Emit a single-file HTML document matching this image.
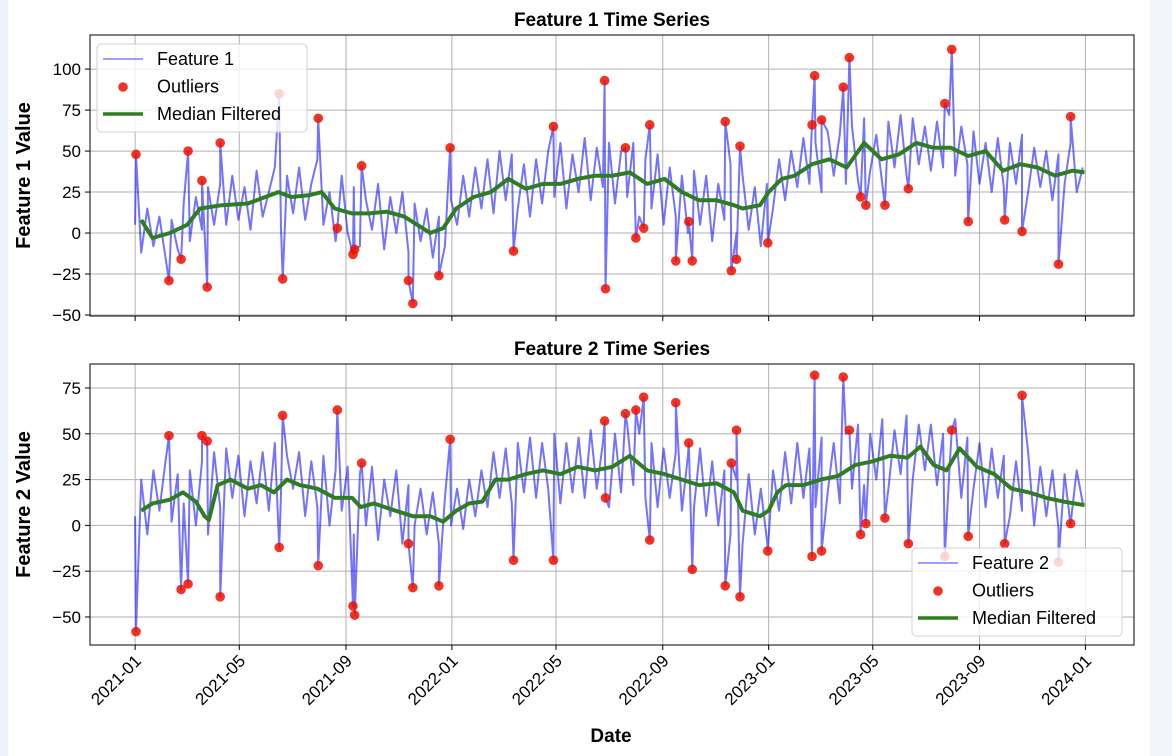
<!DOCTYPE html>
<html><head><meta charset="utf-8"><style>
html,body{margin:0;padding:0;background:#fff;}
svg{display:block;font-family:"Liberation Sans","DejaVu Sans",sans-serif;}
</style></head><body>
<svg id="chart" width="1172" height="756" viewBox="0 0 1172 756" xmlns="http://www.w3.org/2000/svg">
<rect x="0" y="0" width="1172" height="756" fill="#ffffff"/>
<rect x="0" y="0" width="8" height="756" fill="#eef3f8"/>
<rect x="1150" y="0" width="22" height="756" fill="#f2f6fa"/>
<g id="p1"></g>
<g id="p2"></g>
<text x="611" y="742" font-size="19" font-weight="bold" text-anchor="middle" fill="#000">Date</text>
</svg>
<script>
// ---- data ----
const tickLabels = ["2021-01","2021-05","2021-09","2022-01","2022-05","2022-09","2023-01","2023-05","2023-09","2024-01"];
const tickDays = [0,120,243,365,485,608,730,850,973,1095];
const outlierDays = [1,39,53,61,77,83,98,166,170,211,233,251,253,261,315,320,350,363,436,482,541,542,565,577,586,593,623,638,642,680,687,693,697,729,780,783,791,816,823,836,842,864,891,933,941,960,1002,1022,1064,1078];
const outliers1 = [48,-29,-16,50,32,-33,55,85,-28,70,3,-13,-10,41,-29,-43,-26,52,-11,65,93,-34,52,-3,3,66,-17,7,-17,68,-23,-16,53,-6,66,96,69,89,107,22,17,17,27,79,112,7,8,1,-19,71];
const outliers2 = [-58,49,-35,-32,49,46,-39,-12,60,-22,63,-44,-49,34,-10,-34,-33,47,-19,-19,57,15,61,63,70,-8,67,45,-24,-33,34,52,-39,-14,-17,82,-14,81,52,-5,1,4,-10,-17,52,-6,-10,71,-20,1];
const weekly1 = [5,-12,15,-8,10,-15,8,-10,18,-5,22,2,28,5,
30,5,35,8,28,2,38,10,25,40,5,35,12,
40,8,30,45,5,25,-5,35,0,
28,-8,20,2,30,-10,22,0,25,-12,18,-5,
15,-15,10,-8,20,
5,35,10,40,15,45,12,50,20,48,15,42,
10,45,18,50,22,55,15,48,25,58,20,52,28,55,
18,50,22,55,10,45,15,48,5,40,10,35,
0,38,5,35,-5,30,8,42,0,35,2,28,-8,30,
15,45,20,50,28,58,30,55,25,62,35,60,30,
65,32,70,38,60,30,68,40,72,35,70,42,65,
38,68,40,72,35,65,42,62,30,55,25,58,28,
55,30,60,25,52,28,50,20,48,30,55,25,40];
const weekly2 = [5,25,-5,30,8,35,2,28,12,30,0,35,-5,40,
10,42,15,38,5,35,12,40,8,45,15,38,20,
40,5,35,10,38,0,30,8,32,
-5,28,0,32,-8,25,5,30,-10,22,0,20,
-5,18,-10,15,0,
20,-2,25,5,30,10,40,15,42,12,45,18,
48,15,45,20,50,12,45,18,48,15,52,20,45,10,
50,18,55,22,50,15,45,10,42,15,40,8,
38,10,42,5,35,0,30,-5,25,-10,28,-5,20,-8,
30,8,40,12,45,15,42,10,48,18,45,12,50,
20,55,22,50,25,58,20,52,28,60,25,55,30,
55,22,50,28,58,15,48,20,45,10,42,15,38,
5,35,8,40,0,32,5,30,-2,28,0,30,12];
const medDays1 = [7,20,40,60,75,100,130,150,165,180,200,215,230,250,270,290,310,325,340,355,370,390,410,430,450,470,490,510,530,550,570,590,610,630,650,670,690,700,720,730,745,760,780,800,820,840,860,880,900,920,940,960,980,1000,1020,1040,1060,1080,1094];
const medVals1 = [8,-3,0,5,15,17,18,22,25,22,23,25,15,12,12,13,10,5,0,3,15,22,25,33,27,30,30,33,35,35,37,30,33,25,20,20,17,15,17,25,33,35,42,45,40,55,45,48,55,52,52,47,50,38,42,40,35,38,37];
const medDays2 = [7,20,40,55,70,80,85,95,110,130,145,160,175,190,210,230,250,260,275,300,320,340,355,370,385,400,415,430,450,470,490,510,530,550,570,590,610,630,650,670,690,700,720,730,740,750,770,790,810,830,850,870,890,905,920,935,950,970,990,1010,1030,1050,1070,1094];
const medVals2 = [8,12,14,18,13,5,3,22,25,20,22,18,25,22,20,15,15,10,12,8,5,5,2,8,12,13,25,25,28,30,28,32,30,32,38,30,28,25,22,23,18,8,5,8,18,22,22,25,27,33,35,38,37,43,33,30,42,32,28,20,18,15,13,11];

// ---- axes ----
const X0=90, X1=1134, D0=-52, D1=1151;
const xs = d => X0 + (d - D0) / (D1 - D0) * (X1 - X0);
const NS="http://www.w3.org/2000/svg";
function mk(tag, parent, attrs){const e=document.createElementNS(NS,tag);for(const k in attrs)e.setAttribute(k,attrs[k]);parent.appendChild(e);return e;}

function panel(g, cfg){
  const ys = v => cfg.yTop + (cfg.vMax - v) / (cfg.vMax - cfg.vMin) * (cfg.yBot - cfg.yTop);
  tickDays.forEach(d=>{
    const l=mk('line',g,{x1:xs(d),x2:xs(d),y1:cfg.yTop,y2:cfg.yBot,stroke:'#b0b0b0','stroke-width':1});
    
    
    const t=mk('line',g,{x1:xs(d),x2:xs(d),y1:cfg.yBot,y2:cfg.yBot+5,stroke:'#000','stroke-width':1});
    
    
  });
  cfg.yTicks.forEach(v=>{
    const y=ys(v);
    const l=mk('line',g,{x1:X0,x2:X1,y1:y,y2:y,stroke:'#b0b0b0','stroke-width':1});
    
    
    const t=mk('line',g,{x1:X0-5,x2:X0,y1:y,y2:y,stroke:'#000','stroke-width':1});
    
    
    const tx=mk('text',g,{x:X0-9,y:y+6,'font-size':17,'text-anchor':'end',fill:'#000'});
    tx.textContent = v<0 ? '\u2212'+(-v) : String(v);
    
    
  });
  const pts=[];
  cfg.weekly.forEach((v,i)=>pts.push([i*7,v]));
  outlierDays.forEach((d,i)=>pts.push([d,cfg.outliers[i]]));
  pts.sort((a,b)=>a[0]-b[0]);
  const raw=mk('polyline',g,{points:pts.map(p=>xs(p[0]).toFixed(1)+','+ys(p[1]).toFixed(1)).join(' '),fill:'none',stroke:'#0000ff','stroke-opacity':0.55,'stroke-width':2,'stroke-linejoin':'round'});
  
  
  outlierDays.forEach((d,i)=>{
    const c=mk('circle',g,{cx:xs(d),cy:ys(cfg.outliers[i]),r:4.8,fill:'#ee1100','fill-opacity':0.85});
    
    
  });
  const med=mk('polyline',g,{points:cfg.medDays.map((d,i)=>xs(d).toFixed(1)+','+ys(cfg.medVals[i]).toFixed(1)).join(' '),fill:'none',stroke:'#2f7d1e','stroke-width':4,'stroke-linejoin':'round'});
  
  
  const fr=mk('rect',g,{x:X0,y:cfg.yTop,width:X1-X0,height:cfg.yBot-cfg.yTop,fill:'none',stroke:'#000','stroke-width':1});
  
  
  const ti=mk('text',g,{x:612,y:cfg.yTop-9,'font-size':19,'font-weight':'bold','text-anchor':'middle',fill:'#000'});
  ti.textContent=cfg.title;
  
  
  const yl=mk('text',g,{x:0,y:0,'font-size':20,'font-weight':'bold','text-anchor':'middle',fill:'#000',transform:`translate(30,${(cfg.yTop+cfg.yBot)/2}) rotate(-90)`});
  yl.textContent=cfg.ylabel;
  
  
  const L=cfg.legend;
  const lg=mk('g',g,{});
  
  
  mk('rect',lg,{x:L.x,y:L.y,width:L.w,height:88,rx:4,fill:'#fff','fill-opacity':0.8,stroke:'#d0d0d0','stroke-width':1});
  const e1=mk('line',lg,{x1:L.x+6,x2:L.x+46,y1:L.y+15,y2:L.y+15,stroke:'#0000ff','stroke-opacity':0.5,'stroke-width':1.6});
  
  
  const e2=mk('circle',lg,{cx:L.x+26,cy:L.y+43,r:4.8,fill:'#ee1100','fill-opacity':0.85});
  
  
  const e3=mk('line',lg,{x1:L.x+6,x2:L.x+46,y1:L.y+70,y2:L.y+70,stroke:'#2f7d1e','stroke-width':3.6});
  
  
  [cfg.seriesName,'Outliers','Median Filtered'].forEach((s,i)=>{
    const t=mk('text',lg,{x:L.x+60,y:L.y+21+i*27.5,'font-size':18,fill:'#000'});
    t.textContent=s;
    
    
  });
  return ys;
}

panel(document.getElementById('p1'),{yTop:35,yBot:316,vMax:120.8,vMin:-50.6,yTicks:[-50,-25,0,25,50,75,100],weekly:weekly1,outliers:outliers1,medDays:medDays1,medVals:medVals1,title:'Feature 1 Time Series',ylabel:'Feature 1 Value',seriesName:'Feature 1',legend:{x:97,y:44,w:210}});
panel(document.getElementById('p2'),{yTop:364,yBot:645,vMax:88.1,vMin:-65.3,yTicks:[-50,-25,0,25,50,75],weekly:weekly2,outliers:outliers2,medDays:medDays2,medVals:medVals2,title:'Feature 2 Time Series',ylabel:'Feature 2 Value',seriesName:'Feature 2',legend:{x:912,y:548,w:210}});

const svg=document.getElementById('chart');
tickDays.forEach((d,i)=>{
  const t=mk('text',svg,{x:0,y:0,'font-size':17,'text-anchor':'end',fill:'#000',transform:`translate(${xs(d)+7},${662}) rotate(-45)`});
  t.textContent=tickLabels[i];
  
  
});
</script>
</body></html>
